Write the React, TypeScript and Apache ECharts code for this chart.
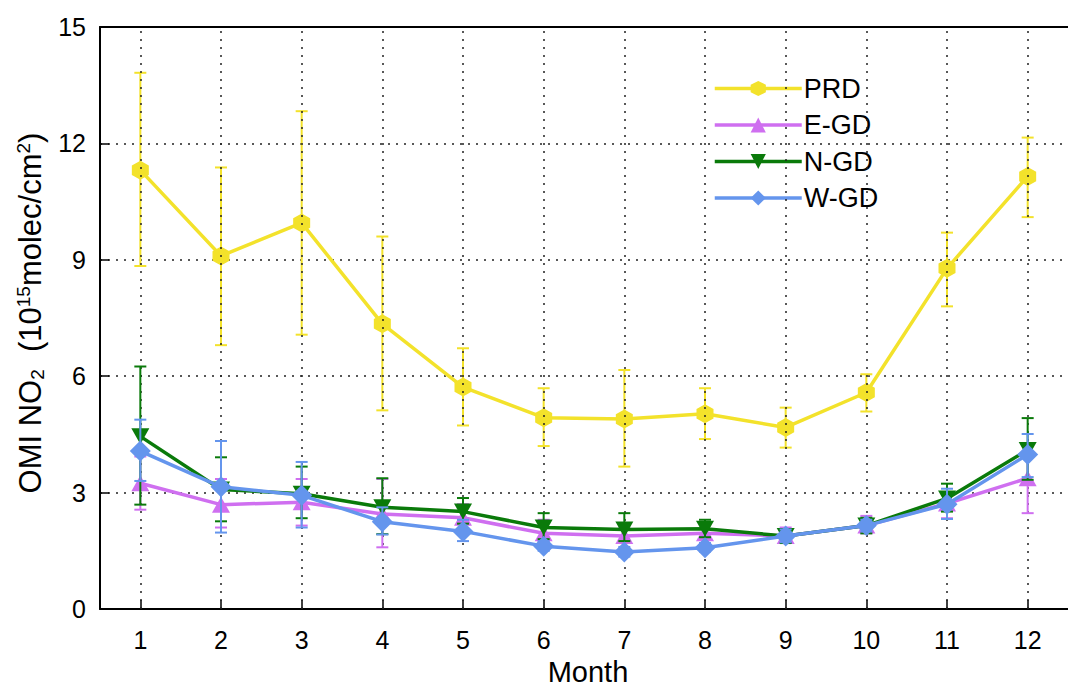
import React, { useEffect, useRef } from "react";
import * as echarts from "echarts";

const months = [1, 2, 3, 4, 5, 6, 7, 8, 9, 10, 11, 12];
const yTicks = [0, 3, 6, 9, 12, 15];

const prd = [11.31, 9.1, 9.95, 7.35, 5.72, 4.93, 4.9, 5.03, 4.68, 5.58, 8.78, 11.15];
const prdLo = [8.84, 6.8, 7.07, 5.12, 4.73, 4.2, 3.67, 4.38, 4.16, 5.09, 7.8, 10.1];
const prdHi = [13.82, 11.38, 12.83, 9.6, 6.72, 5.69, 6.16, 5.69, 5.19, 6.05, 9.7, 12.15];

const egd = [3.24, 2.69, 2.75, 2.45, 2.35, 1.95, 1.88, 1.95, 1.88, 2.15, 2.72, 3.37];
const egdLo = [2.56, 2.1, 2.15, 1.59, 2.0, 1.75, 1.7, 1.8, 1.7, 1.95, 2.34, 2.47];
const egdHi = [3.93, 3.35, 3.35, 3.35, 2.7, 2.3, 2.1, 2.15, 2.1, 2.4, 3.0, 4.2];

const ngd = [4.45, 3.08, 2.97, 2.62, 2.51, 2.1, 2.05, 2.07, 1.88, 2.15, 2.85, 4.1];
const ngdLo = [2.69, 2.26, 2.34, 1.93, 2.2, 1.8, 1.75, 1.85, 1.7, 1.95, 2.51, 3.33];
const ngdHi = [6.25, 3.91, 3.67, 3.37, 2.86, 2.47, 2.47, 2.3, 2.05, 2.35, 3.23, 4.92];

const wgd = [4.07, 3.15, 2.93, 2.25, 2.0, 1.62, 1.47, 1.58, 1.88, 2.15, 2.7, 3.98];
const wgdLo = [3.3, 1.97, 2.1, 1.92, 1.75, 1.5, 1.35, 1.48, 1.72, 2.0, 2.32, 3.4];
const wgdHi = [4.88, 4.33, 3.79, 2.62, 2.3, 1.75, 1.6, 1.7, 2.05, 2.3, 3.1, 4.51];

const names = ["PRD", "E-GD", "N-GD", "W-GD"];
const colors = ["#f3e22b", "#cf6ff0", "#0a7a0a", "#6495ed"];

const FONT = "'Liberation Sans', Arial, sans-serif";
const HEX = "path://M0,-1 L0.866,-0.5 L0.866,0.5 L0,1 L-0.866,0.5 L-0.866,-0.5 Z";

export default function App() {
  const ref = useRef<HTMLDivElement>(null);
  useEffect(() => {
    document.body.style.margin = "0";
    const chart = echarts.init(ref.current!, undefined, { renderer: "svg" });
    const vals = [prd, egd, ngd, wgd];
    const los = [prdLo, egdLo, ngdLo, wgdLo];
    const his = [prdHi, egdHi, ngdHi, wgdHi];
    const symbols = [HEX, "triangle", "triangle", "diamond"];
    const sizes: any[] = [[17, 19], [18, 16], [18, 16], [21, 21]];
    const rotates = [0, 0, 180, 0];
    const series: any[] = [
      {
        type: "line",
        name: "grid",
        data: [],
        silent: true,
        z: 1,
        markLine: {
          silent: true,
          symbol: "none",
          label: { show: false },
          lineStyle: { color: "#222", type: [2, 6], width: 1.5 },
          data: months.map((m) => ({ xAxis: m })),
        },
      },
    ];
    names.forEach((n, i) => {
      series.push({
        type: "custom",
        name: n + "-err",
        z: 3 + i * 2,
        data: months.map((m, j) => [m, los[i][j], his[i][j]]),
        renderItem: (params: any, api: any) => {
          const x = api.value(0);
          const p1 = api.coord([x, api.value(1)]);
          const p2 = api.coord([x, api.value(2)]);
          const w = 6;
          const st = { stroke: colors[i], lineWidth: 2 };
          return {
            type: "group",
            children: [
              { type: "line", shape: { x1: p1[0], y1: p1[1], x2: p2[0], y2: p2[1] }, style: st },
              { type: "line", shape: { x1: p1[0] - w, y1: p1[1], x2: p1[0] + w, y2: p1[1] }, style: st },
              { type: "line", shape: { x1: p2[0] - w, y1: p2[1], x2: p2[0] + w, y2: p2[1] }, style: st },
            ],
          };
        },
      });
      series.push({
        type: "line",
        name: n,
        z: 4 + i * 2,
        data: months.map((m, j) => [m, vals[i][j]]),
        symbol: symbols[i],
        symbolSize: sizes[i],
        symbolRotate: rotates[i],
        symbolKeepAspect: false,
        showSymbol: true,
        lineStyle: { color: colors[i], width: 3.5 },
        itemStyle: { color: colors[i] },
      });
    });

    chart.setOption({
      animation: false,
      backgroundColor: "#ffffff",
      textStyle: { fontFamily: FONT },
      grid: { left: 100, right: -8, top: 27, bottom: 78, containLabel: false },
      legend: {
        data: names,
        orient: "vertical",
        left: 708,
        top: 70,
        itemWidth: 87,
        itemHeight: 19,
        itemGap: 9.5,
        lineStyle: { width: 3.5 },
        textStyle: { fontSize: 27, color: "#000", fontFamily: FONT, padding: [0, 0, 0, -3] },
        selectedMode: false,
      },
      xAxis: [
        {
          type: "value",
          min: 0.5,
          max: 12.5,
          axisLine: { show: true, lineStyle: { color: "#000", width: 2 } },
          axisTick: { show: true, inside: true, length: 9, customValues: months, lineStyle: { color: "#000", width: 1.5 } },
          axisLabel: { show: true, customValues: months, fontSize: 25, color: "#000", margin: 18, fontFamily: FONT },
          splitLine: { show: false },
        },
        {
          type: "value",
          position: "top",
          min: 0.5,
          max: 12.5,
          axisLine: { show: true, onZero: false, lineStyle: { color: "#000", width: 2 } },
          axisTick: { show: false },
          axisLabel: { show: false },
          splitLine: { show: false },
        },
      ],
      yAxis: {
        type: "value",
        min: yTicks[0],
        max: yTicks[yTicks.length - 1],
        interval: 3,
        axisLine: { show: true, lineStyle: { color: "#000", width: 2 } },
        axisTick: { show: true, inside: true, length: 9, lineStyle: { color: "#000", width: 1.5 } },
        axisLabel: { fontSize: 25, color: "#000", margin: 14, fontFamily: FONT },
        splitLine: { show: true, lineStyle: { color: "#222", type: [2, 6], width: 1.5 } },
      },
      graphic: [
        {
          type: "text",
          x: 588,
          y: 672,
          style: {
            text: "Month",
            font: `29px ${FONT}`,
            fill: "#000",
            align: "center",
            verticalAlign: "middle",
          },
        },
        {
          type: "text",
          x: 30,
          y: 313,
          rotation: Math.PI / 2,
          style: {
            text: "{m|OMI NO}{sub|2}{m|  (10}{sup|15}{m|molec/cm}{sup|2}{m|)}",
            align: "center",
            verticalAlign: "middle",
            fill: "#000",
            rich: {
              m: { fontSize: 31, fontFamily: FONT, fill: "#000", lineHeight: 40, verticalAlign: "middle" },
              sub: { fontSize: 19, fontFamily: FONT, fill: "#000", lineHeight: 40, padding: [14, 0, 0, 0], verticalAlign: "middle" },
              sup: { fontSize: 19, fontFamily: FONT, fill: "#000", lineHeight: 40, padding: [0, 0, 14, 0], verticalAlign: "middle" },
            },
          },
        },
      ],
      series,
    });
    return () => chart.dispose();
  }, []);
  return <div ref={ref} style={{ width: 1068, height: 687 }} />;
}
